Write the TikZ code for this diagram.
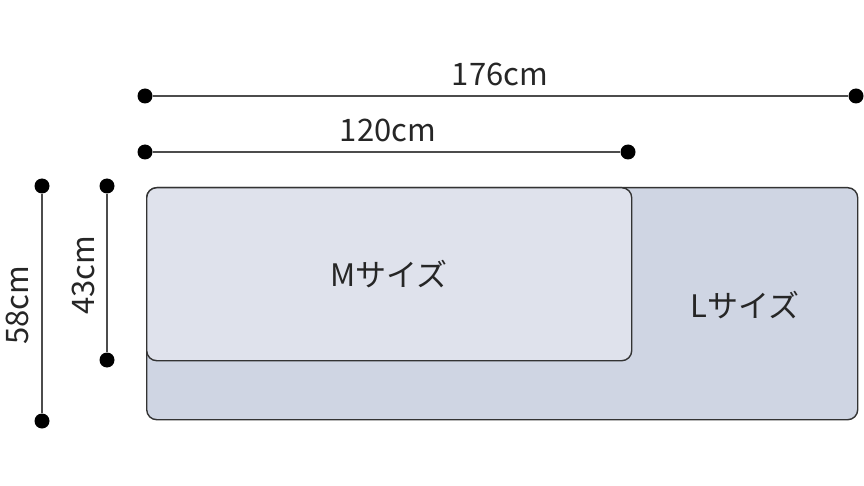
\documentclass[tikz,border=0pt]{standalone}
\usepackage{fontspec}
\setmainfont{Noto Sans CJK JP}
\definecolor{mfill}{HTML}{DFE2EC}
\definecolor{lfill}{HTML}{CFD5E3}
\definecolor{edge}{HTML}{333333}
\begin{document}
\begin{tikzpicture}[x=1pt,y=-1pt,
    dot/.style={circle,fill=black,inner sep=0pt,minimum size=15pt},
    dimline/.style={draw=black!70,line width=1.4pt},
    sizebox/.style={draw=edge,line width=1.4pt,rounded corners=10pt,anchor=north west,inner sep=0pt},
    lbl/.style={font=\fontsize{31}{36}\selectfont,text=black!85,inner sep=0pt}]
  \useasboundingbox (0,0) rectangle (864,486);
  % boxes
  \node[sizebox,fill=lfill,minimum width=711pt,minimum height=232pt] (Lbox) at (146,187) {};
  \node[sizebox,fill=mfill,minimum width=485pt,minimum height=173pt] (Mbox) at (146,187) {};
  \node[lbl] (Mtext) at (Mbox.center) {Mサイズ};
  \node[lbl] (Ltext) at (745,305) {Lサイズ};
  % width dimensions
  \node[dot] (w1a) at (145,96) {};
  \node[dot] (w1b) at (856,96) {};
  \node[dot] (w2a) at (145,152) {};
  \node[dot] (w2b) at (628,152) {};
  \draw[dimline] (w1a) -- (w1b);
  \draw[dimline] (w2a) -- (w2b);
  \node[lbl] (w1text) at (500,74) {176cm};
  \node[lbl] (w2text) at (388,130) {120cm};
  % depth dimensions
  \node[dot] (d1a) at (42,186) {};
  \node[dot] (d1b) at (42,421) {};
  \node[dot] (d2a) at (107,186) {};
  \node[dot] (d2b) at (107,360) {};
  \draw[dimline] (d1a) -- (d1b);
  \draw[dimline] (d2a) -- (d2b);
  \node[lbl,rotate=90] (d1text) at (17,305) {58cm};
  \node[lbl,rotate=90] (d2text) at (83,275) {43cm};
\end{tikzpicture}
\end{document}
